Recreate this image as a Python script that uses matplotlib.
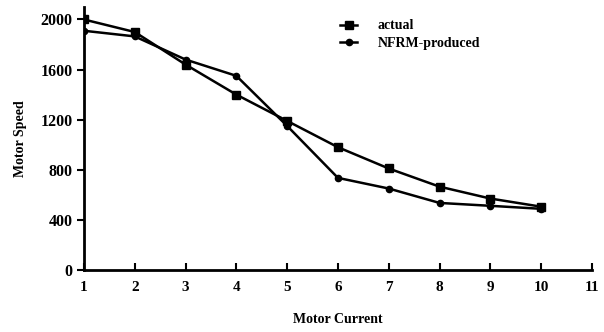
import matplotlib
matplotlib.use('Agg')
import matplotlib.pyplot as plt

current = [1, 2, 3, 4, 5, 6, 7, 8, 9, 10]
actual = [2000, 1900, 1640, 1400, 1190, 980, 810, 665, 570, 505]
nfrm = [1910, 1865, 1680, 1550, 1150, 735, 650, 535, 512, 488]
x_ticks = list(range(1, 12))
y_ticks = [0, 400, 800, 1200, 1600, 2000]

plt.rcParams['font.family'] = ['Liberation Serif', 'DejaVu Serif']
plt.rcParams['font.weight'] = 'bold'

fig = plt.figure(figsize=(6.04, 3.32), dpi=100)
ax = fig.add_axes([0.139, 0.187, 0.841, 0.792])

ax.plot(current, actual, color='black', lw=1.8, marker='s', ms=5.5, label='actual')
ax.plot(current, nfrm, color='black', lw=1.8, marker='o', ms=4.5, label='NFRM-produced')

ax.set_xlim(1, 11)
ax.set_ylim(0, 2100)
ax.set_xticks(x_ticks)
ax.set_yticks(y_ticks)
ax.spines['top'].set_visible(False)
ax.spines['right'].set_visible(False)
for s in ('left', 'bottom'):
    ax.spines[s].set_linewidth(2)
ax.tick_params(axis='x', direction='in', length=5, width=1.5, labelsize=11, pad=8)
ax.tick_params(axis='y', direction='out', length=5, width=1.5, labelsize=11.5, pad=3)

ax.set_xlabel('Motor Current', fontsize=10, fontweight='bold', labelpad=14)
ax.set_ylabel('Motor Speed', fontsize=10, fontweight='bold', labelpad=10)

ax.legend(loc='upper left', bbox_to_anchor=(0.48, 1.0), frameon=False, fontsize=10,
          handlelength=1.2, handletextpad=1.5, labelspacing=0.3)

fig.savefig('out.png', dpi=100)
